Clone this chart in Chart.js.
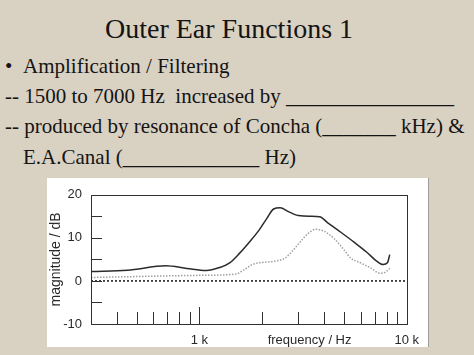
<!DOCTYPE html>
<html>
<head>
<meta charset="utf-8">
<script src="https://cdn.jsdelivr.net/npm/chart.js@4.4.1/dist/chart.umd.min.js"></script>
<style>
body { margin: 0; width: 474px; height: 355px; background: #d9d1c2; overflow: hidden; position: relative;
       font-family: "Liberation Serif", "Times New Roman", serif; color: #141414; }
.t { position: absolute; white-space: pre; line-height: 1; }
#panel { position: absolute; left: 47px; top: 178px; width: 381px; height: 169px; background: #fff; border-right: 1px solid #9c9c9c; }
</style>
</head>
<body>
<div class="t" style="left:105px;top:15px;font-size:28px">Outer Ear Functions 1</div>
<div class="t" style="left:5px;top:56px;font-size:21px">•</div>
<div class="t" style="left:23px;top:56px;font-size:21px">Amplification / Filtering</div>
<div class="t" style="left:5px;top:86px;font-size:21px">-- 1500 to 7000 Hz  increased by ________________</div>
<div class="t" style="left:5px;top:116px;font-size:21px">-- produced by resonance of Concha (_______ kHz) &amp;</div>
<div class="t" style="left:23px;top:147px;font-size:21px">E.A.Canal (_____________ Hz)</div>
<div id="panel"><canvas id="chart"></canvas></div>
<script>
// solid curve (open ear)
const upperFreq = [300, 450, 690, 870, 1080, 1250, 1400, 1560, 1740, 1940, 2120, 2280, 2450, 2690, 2890, 3000, 3400, 3800, 4160, 4810, 5570, 6440, 7160, 7700, 8070, 8280];
const upperDb = [2.2, 2.5, 3.5, 2.9, 2.4, 3.1, 4.2, 6.4, 9.0, 11.8, 14.6, 16.7, 17.0, 16.1, 15.4, 15.2, 15.0, 14.9, 13.5, 11.3, 9.0, 6.6, 4.6, 3.8, 4.2, 6.1];
// dotted grey curve
const lowerFreq = [300, 600, 1000, 1500, 1620, 1800, 1940, 2320, 2590, 2790, 3110, 3340, 3660, 4010, 4470, 4990, 5370, 5990, 6650, 7450, 7860, 8280];
const lowerDb = [0.8, 1.1, 1.3, 1.6, 2.4, 3.8, 4.2, 4.6, 5.3, 6.8, 9.4, 11.0, 12.0, 11.5, 9.8, 7.2, 5.3, 4.2, 3.1, 1.8, 2.0, 2.9];
// 0 dB reference
const refFreq = [300, 10000];
const refDb = [0, 0];

const xLabelVals = [1000, 3400, 10000];
const xLabelText = ['1 k', 'frequency / Hz', '10 k'];
const yLabelVals = [-10, 0, 10, 20];
const xMarks = [400, 500, 600, 700, 800, 900, 1000, 2000, 3000, 4000, 5000, 6000, 7000, 8000, 9000];
const yMarks = [-5, 0, 5, 10, 15];

function pts(xs, ys) {
    return xs.map((v, i) => ({x: v, y: ys[i]}));
}

// box round the plot and tick marks pointing inwards
const frame = {
    id: 'frame',
    afterDatasetsDraw(chart) {
        const ctx = chart.ctx;
        const a = chart.chartArea;
        const x = chart.scales.x, y = chart.scales.y;
        ctx.save();
        ctx.strokeStyle = '#303030';
        ctx.lineWidth = 1;
        ctx.strokeRect(Math.round(a.left) + 0.5, Math.round(a.top) + 0.5, Math.round(a.width), Math.round(a.height));
        ctx.beginPath();
        xMarks.forEach(v => {
            const px = Math.round(x.getPixelForValue(v)) + 0.5;
            ctx.moveTo(px, a.bottom);
            ctx.lineTo(px, a.bottom - (v === 1000 ? 17 : 12));
        });
        yMarks.forEach(v => {
            const py = Math.round(y.getPixelForValue(v)) + 0.5;
            ctx.moveTo(a.left, py);
            ctx.lineTo(a.left + 11, py);
        });
        ctx.stroke();
        ctx.restore();
    }
};

const sans = '"Liberation Sans", Arial, sans-serif';
const ctx = document.getElementById('chart').getContext('2d');
new Chart(ctx, {
    type: 'line',
    data: {
        datasets: [{
            data: pts(refFreq, refDb),
            borderColor: '#222',
            borderWidth: 1.6,
            borderDash: [2, 2],
            pointRadius: 0
        }, {
            data: pts(lowerFreq, lowerDb),
            borderColor: '#a0a0a0',
            borderWidth: 1.5,
            borderDash: [1.5, 1.5],
            cubicInterpolationMode: 'monotone',
            pointRadius: 0
        }, {
            data: pts(upperFreq, upperDb),
            borderColor: '#2b2b2b',
            borderWidth: 1.5,
            cubicInterpolationMode: 'monotone',
            pointRadius: 0
        }]
    },
    options: {
        responsive: true,
        maintainAspectRatio: false,
        animation: false,
        layout: {padding: {top: 11, right: 15, left: 0, bottom: 0}},
        plugins: {legend: {display: false}, tooltip: {enabled: false}},
        scales: {
            x: {
                type: 'logarithmic',
                min: 300,
                max: 10000,
                afterBuildTicks: s => { s.ticks = xLabelVals.map(v => ({value: v})); },
                afterFit: s => { s.height = 23; },
                grid: {display: false, drawTicks: false},
                border: {display: false},
                ticks: {
                    autoSkip: false,
                    maxRotation: 0,
                    padding: 9,
                    color: '#2a2a2a',
                    font: {family: sans, size: 13},
                    callback: (v, i) => xLabelText[i]
                }
            },
            y: {
                min: -10,
                max: 20,
                afterBuildTicks: s => { s.ticks = yLabelVals.map(v => ({value: v})); },
                afterFit: s => { s.width = 44; },
                grid: {display: false, drawTicks: false},
                border: {display: false},
                ticks: {padding: 9, color: '#2a2a2a', font: {family: sans, size: 13}},
                title: {display: true, text: 'magnitude / dB', color: '#2a2a2a',
                        font: {family: sans, size: 14}, padding: {top: 1, bottom: 0}}
            }
        }
    },
    plugins: [frame]
});
</script>
</body>
</html>
